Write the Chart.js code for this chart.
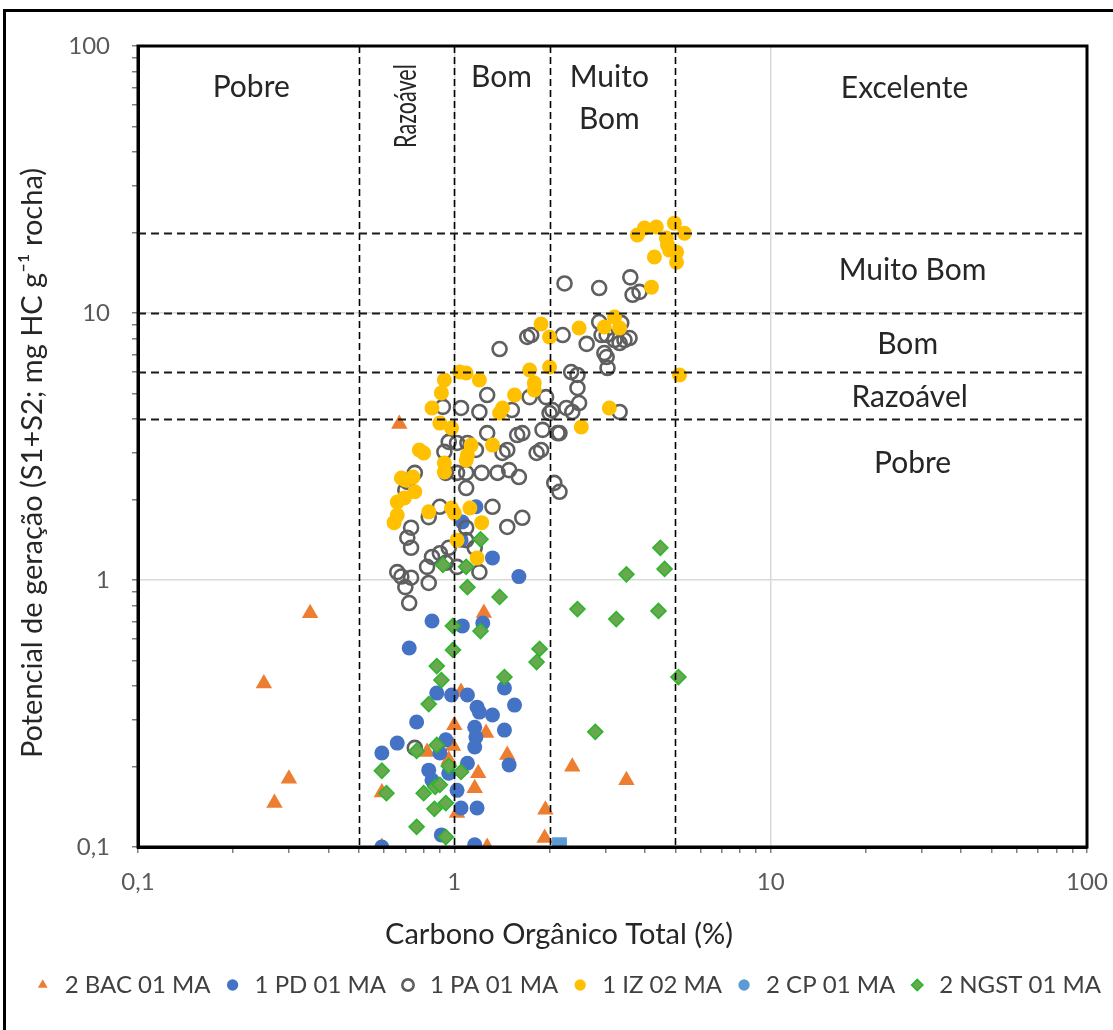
<!DOCTYPE html>
<html lang="pt">
<head>
    <meta charset="UTF-8">
    <title>Potencial de geração x COT</title>
    <script src="https://cdn.jsdelivr.net/npm/chart.js"></script>
    <style>
        body { margin: 0; background: #fff; }
        canvas { display: block; }
    </style>
</head>
<body>
    <canvas id="chart" width="1113" height="1030"></canvas>

    <script>
        // COT (%) and S1+S2 (mg HC/g rocha) per well
        const bacToc = [0.25, 0.27, 0.30, 0.35, 0.59, 0.59, 0.67, 0.82, 0.96, 0.99, 1.0, 1.02, 1.05, 1.16, 1.19, 1.24, 1.26, 1.27, 1.47, 1.93, 1.94, 2.36, 3.5];
        const bacPg  = [0.41, 0.146, 0.18, 0.75, 0.16, 0.1, 3.84, 0.227, 0.212, 0.239, 0.286, 0.134, 0.381, 0.166, 0.189, 0.752, 0.267, 0.1, 0.221, 0.108, 0.138, 0.2, 0.178];

        const pdToc = [0.59, 0.59, 0.66, 0.72, 0.85, 1.06, 1.23, 1.6, 1.32, 1.06, 1.17, 0.88, 0.98, 1.1, 1.18, 1.2, 1.32, 1.44, 1.55, 1.16, 1.17, 1.16, 1.44, 1.49, 0.76, 0.94, 0.9, 0.83, 0.85, 0.96, 1.1, 1.02, 1.05, 1.18, 0.91, 1.16, 1.05];
        const pdPg  = [0.1, 0.225, 0.245, 0.556, 0.702, 0.673, 0.69, 1.03, 1.21, 1.65, 1.88, 0.377, 0.371, 0.371, 0.334, 0.32, 0.312, 0.394, 0.34, 0.281, 0.258, 0.237, 0.274, 0.203, 0.294, 0.252, 0.225, 0.194, 0.178, 0.189, 0.206, 0.163, 0.14, 0.14, 0.111, 0.102, 1.41];

        const paToc = [2.23, 2.87, 3.6, 3.66, 3.85, 2.2, 1.70, 1.75, 1.39, 2.62, 2.87, 2.92, 3.37, 3.58, 3.33, 3.21, 3.03, 3.45, 2.98, 3.03,
                       3.05, 2.34, 2.45, 2.45, 2.48, 2.36, 2.26, 2.12, 2.0, 1.95, 2.04, 3.33, 1.88, 1.27, 1.05, 1.2, 1.73, 1.52, 0.92, 1.58,
                       1.64, 1.27, 1.9, 2.15, 1.02, 0.96, 1.10, 0.93, 1.47, 1.82, 1.17, 1.42, 1.49, 1.37, 1.09, 1.6, 0.75, 0.71, 2.07, 0.94,
                       1.22, 0.70, 1.09, 2.15, 0.90, 1.32, 0.83, 1.09, 1.47, 1.64, 0.73, 0.71, 0.73, 1.09, 0.96, 0.90, 0.85, 0.82, 0.94, 1.02,
                       0.66, 0.68, 0.73, 0.70, 0.83, 1.2, 0.72, 0.75, 1.16, 1.02];
        const paPg  = [12.9, 12.4, 13.6, 11.7, 12.0, 8.27, 8.13, 8.27, 7.33, 7.66, 9.25, 8.27, 9.18, 8.06, 7.72, 7.92, 8.27, 7.92, 7.08, 6.84,
                       6.22, 6.01, 5.86, 5.24, 4.60, 4.26, 4.41, 3.55, 4.22, 4.84, 4.33, 4.26, 3.07, 4.93, 4.41, 4.26, 4.84, 4.33, 4.45, 3.49,
                       3.55, 3.55, 3.65, 3.55, 3.26, 3.29, 3.26, 3.02, 3.07, 2.99, 3.07, 2.99, 2.58, 2.52, 2.52, 2.43, 2.52, 2.33, 2.31, 2.52,
                       2.52, 2.17, 2.21, 2.14, 1.88, 1.88, 1.72, 1.57, 1.58, 1.71, 1.57, 1.44, 1.32, 1.41, 1.32, 1.26, 1.22, 1.12, 1.16, 1.12,
                       1.07, 1.03, 1.02, 0.94, 0.975, 1.07, 0.82, 0.235, 1.32, 2.52];

        const izToc = [3.79, 3.99, 4.35, 4.96, 5.34, 4.68, 4.72, 5.04, 5.04, 4.29, 4.79, 4.2, 3.21, 2.98, 3.33, 2.48, 1.88, 2.0, 1.73, 2.0,
                       1.79, 1.79, 1.55, 1.42, 1.39, 1.2, 1.04, 1.09, 0.93, 0.91, 0.85, 0.90, 0.98, 2.52, 3.09, 5.15, 1.32, 1.13, 1.10, 1.09,
                       0.93, 0.93, 0.775, 0.80, 0.68, 0.74, 0.75, 0.66, 0.695, 0.66, 0.645, 0.83, 0.98, 1.0, 1.12, 1.22, 1.02, 1.18, 0.70];
        const izPg  = [19.6, 20.8, 21.0, 21.7, 19.9, 19.1, 18.0, 16.9, 15.5, 16.2, 17.2, 12.5, 9.66, 8.86, 8.79, 8.79, 9.1, 8.13, 6.12, 6.28,
                       5.47, 5.15, 4.93, 4.41, 4.22, 5.61, 6.01, 5.96, 5.61, 5.02, 4.41, 3.87, 3.71, 3.74, 4.41, 5.86, 3.20, 3.20, 2.94, 2.81,
                       2.74, 2.54, 3.07, 2.99, 2.41, 2.43, 2.14, 1.96, 2.03, 1.75, 1.64, 1.80, 1.86, 1.78, 1.86, 1.64, 1.41, 1.21, 2.37];

        const cpToc = [2.15];
        const cpPg  = [0.102];

        const ngstToc = [1.39, 2.45, 3.25, 4.42, 1.86, 1.82, 1.44, 5.11, 2.79, 4.48, 3.5, 4.62, 0.92, 1.09, 1.21, 1.10, 0.99, 1.21, 0.99, 0.88,
                         0.91, 0.83, 0.76, 0.88, 0.59, 0.61, 0.80, 0.87, 0.90, 0.94, 0.865, 0.96, 1.05, 0.76, 0.94];
        const ngstPg  = [0.864, 0.778, 0.714, 0.766, 0.552, 0.493, 0.433, 0.433, 0.27, 1.32, 1.05, 1.10, 1.14, 1.12, 1.42, 0.94, 0.673, 0.644, 0.547, 0.476,
                         0.422, 0.343, 0.229, 0.241, 0.193, 0.159, 0.159, 0.168, 0.171, 0.146, 0.139, 0.201, 0.191, 0.119, 0.109];

        // class limits (Peters, 1986)
        const tocLimits = [0.5, 1, 2, 5];
        const pgLimits = [4, 6, 10, 20];

        const majorTicks = [0.1, 1, 10, 100];
        const minorSteps = [2, 3, 4, 5, 6, 7, 8, 9];

        const xTitle = 'Carbono Orgânico Total (%)';
        const yTitle = 'Potencial de geração (S1+S2; mg HC g\u207B\u00B9 rocha)';

        // class names placed at data coordinates
        const zoneLabels = [
            { text: 'Pobre', x: 0.228, y: 70 },
            { text: 'Razoável', x: 0.705, y: 59.6, vertical: true },
            { text: 'Bom', x: 1.41, y: 76 },
            { text: 'Muito', x: 3.09, y: 76 },
            { text: 'Bom', x: 3.09, y: 53 },
            { text: 'Excelente', x: 26.5, y: 69.6 },
            { text: 'Muito Bom', x: 28.1, y: 14.4 },
            { text: 'Bom', x: 27.1, y: 7.65 },
            { text: 'Razoável', x: 27.5, y: 4.85 },
            { text: 'Pobre', x: 28.1, y: 2.74 }
        ];

        const logTicks = [];
        majorTicks.forEach((m, i) => {
            logTicks.push(m);
            if (i < majorTicks.length - 1) minorSteps.forEach(s => logTicks.push(+(m * s).toPrecision(3)));
        });

        function points(xs, ys) {
            return xs.map((x, i) => ({ x: x, y: ys[i] }));
        }

        const zonesPlugin = {
            id: 'zones',
            beforeDraw(chart) {
                const ctx = chart.ctx;
                ctx.save();
                ctx.fillStyle = '#fff';
                ctx.fillRect(0, 0, chart.width, chart.height);
                ctx.strokeStyle = '#000';
                ctx.lineWidth = 3;
                ctx.strokeRect(4.5, 10.5, 1300, 1300);
                ctx.restore();
            },
            afterDatasetsDraw(chart) {
                const { ctx, chartArea: a, scales: { x, y } } = chart;
                ctx.save();
                ctx.strokeStyle = '#000';
                ctx.lineWidth = 1.6;
                ctx.setLineDash([7, 4]);
                tocLimits.forEach(v => {
                    const px = Math.round(x.getPixelForValue(v)) + 0.5;
                    ctx.beginPath();
                    ctx.moveTo(px, a.top);
                    ctx.lineTo(px, a.bottom);
                    ctx.stroke();
                });
                ctx.strokeStyle = '#1a1a1a';
                ctx.lineWidth = 1.8;
                ctx.setLineDash([8, 5]);
                pgLimits.forEach(v => {
                    const py = Math.round(y.getPixelForValue(v)) + 0.5;
                    ctx.beginPath();
                    ctx.moveTo(a.left, py);
                    ctx.lineTo(a.right, py);
                    ctx.stroke();
                });

                ctx.setLineDash([]);
                ctx.lineWidth = 3;
                ctx.strokeStyle = '#000';
                ctx.strokeRect(a.left, a.top, a.width, a.height);

                ctx.fillStyle = '#262626';
                ctx.textAlign = 'center';
                ctx.textBaseline = 'middle';
                ctx.font = '30px Lato';
                zoneLabels.forEach(l => {
                    const px = x.getPixelForValue(l.x);
                    const py = y.getPixelForValue(l.y);
                    if (l.vertical) {
                        ctx.save();
                        ctx.translate(px, py);
                        ctx.rotate(-Math.PI / 2);
                        ctx.scale(0.72, 1);
                        ctx.fillText(l.text, 0, 0);
                        ctx.restore();
                    } else {
                        ctx.fillText(l.text, px, py);
                    }
                });

                // axis titles
                ctx.font = '29px Lato';
                ctx.fillText(xTitle, 559, 935);
                ctx.save();
                ctx.translate(33, 463);
                ctx.rotate(-Math.PI / 2);
                ctx.fillText(yTitle, 0, 0);
                ctx.restore();
                ctx.restore();
            }
        };

        // fixed axis sizes, no extra padding for edge labels
        function fixSize(prop, size) {
            return s => {
                s[prop] = size;
                s.paddingLeft = s.paddingRight = s.paddingTop = s.paddingBottom = 0;
            };
        }

        function logAxis() {
            return {
                type: 'logarithmic',
                min: 0.1,
                max: 100,
                afterBuildTicks: scale => {
                    scale.ticks = logTicks.map(v => ({ value: v, major: majorTicks.includes(v) }));
                },
                grid: {
                    color: c => (c.tick && c.tick.major) ? '#d9d9d9' : 'rgba(0,0,0,0)',
                    lineWidth: 1.5,
                    tickColor: '#7f7f7f',
                    tickLength: 6
                },
                border: { display: true, color: '#000', width: 3 },
                ticks: {
                    autoSkip: false,
                    maxRotation: 0,
                    color: '#595959',
                    font: { size: 24 },
                    callback: v => majorTicks.includes(v) ? String(v).replace('.', ',') : ''
                }
            };
        }

        const xAxis = logAxis();
        xAxis.ticks.padding = 15;
        xAxis.afterFit = fixSize('height', 114);

        const yAxis = logAxis();
        yAxis.ticks.padding = 22;
        yAxis.afterFit = fixSize('width', 138);

        Chart.defaults.font.family = 'Lato';

        new Chart(document.getElementById('chart'), {
            type: 'scatter',
            data: {
                datasets: [
                    { label: '2 BAC 01 MA', data: points(bacToc, bacPg), pointStyle: 'triangle', pointRadius: 9.5,
                      backgroundColor: '#ED7D31', borderColor: '#ED7D31', borderWidth: 0, order: 6 },
                    { label: '1 PD 01 MA', data: points(pdToc, pdPg), pointStyle: 'circle', pointRadius: 7.5,
                      backgroundColor: '#4472C4', borderColor: '#4472C4', borderWidth: 0, order: 5 },
                    { label: '1 PA 01 MA', data: points(paToc, paPg), pointStyle: 'circle', pointRadius: 7,
                      backgroundColor: 'rgba(0,0,0,0)', borderColor: '#5f5f5f', borderWidth: 2.6, order: 4 },
                    { label: '1 IZ 02 MA', data: points(izToc, izPg), pointStyle: 'circle', pointRadius: 7.5,
                      backgroundColor: '#FFC000', borderColor: '#FFC000', borderWidth: 0, order: 3 },
                    { label: '2 CP 01 MA', data: points(cpToc, cpPg), pointStyle: 'rect', pointRadius: 10.5,
                      backgroundColor: '#5B9BD5', borderColor: '#5B9BD5', borderWidth: 0, order: 2 },
                    { label: '2 NGST 01 MA', data: points(ngstToc, ngstPg), pointStyle: 'rectRot', pointRadius: 7.5,
                      backgroundColor: '#6AA84F', borderColor: '#2DB52D', borderWidth: 1.6, order: 1 }
                ]
            },
            options: {
                responsive: false,
                animation: false,
                devicePixelRatio: 1,
                layout: { autoPadding: false, padding: { top: 46, right: 0, bottom: 23, left: 0 } },
                scales: {
                    x: xAxis,
                    y: yAxis,
                    yPad: {
                        position: 'right',
                        type: 'linear',
                        display: true,
                        grid: { display: false },
                        border: { display: false },
                        ticks: { display: false },
                        afterFit: fixSize('width', 26)
                    }
                },
                plugins: {
                    tooltip: { enabled: false },
                    legend: {
                        position: 'bottom',
                        align: 'end',
                        labels: {
                            usePointStyle: true,
                            boxWidth: 20,
                            boxHeight: 8,
                            padding: 12,
                            color: '#404040',
                            font: { size: 24 },
                            sort: (a, b) => a.datasetIndex - b.datasetIndex,
                            generateLabels: chart => {
                                const items = Chart.defaults.plugins.legend.labels.generateLabels(chart);
                                items.forEach(it => {
                                    if (it.text === '2 CP 01 MA') it.pointStyle = 'circle';
                                });
                                return items;
                            }
                        }
                    }
                }
            },
            plugins: [zonesPlugin]
        });
    </script>
</body>
</html>
